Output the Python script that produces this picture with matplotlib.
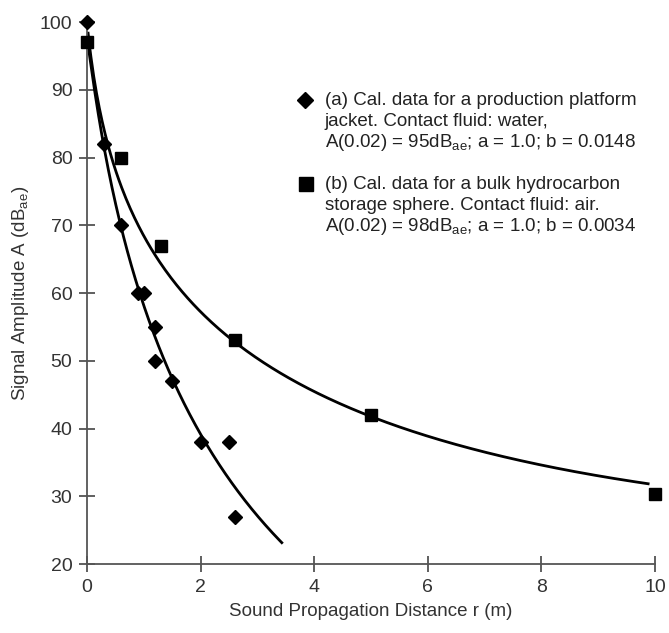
import numpy as np
import matplotlib.pyplot as plt

plt.rcParams['font.family'] = ['Liberation Sans', 'DejaVu Sans']
plt.rcParams['mathtext.fontset'] = 'custom'
plt.rcParams['mathtext.rm'] = 'Liberation Sans'
plt.rcParams['mathtext.it'] = 'Liberation Sans'

# Datos (a): plataforma de producción, agua
r_a = [0.0, 0.3, 0.6, 0.9, 1.0, 1.2, 1.2, 1.5, 2.0, 2.5, 2.6]
A_a = [100, 82, 70, 60, 60, 55, 50, 47, 38, 38, 27]
# curva ajustada (a)
r_fit_a = [0.02, 0.09, 0.29, 0.34, 0.60, 0.79, 0.96, 1.11, 1.49, 1.99, 2.58, 3.43]
A_fit_a = [98.0, 90.0, 82.4, 80.0, 70.3, 63.4, 60.0, 56.0, 47.2, 38.8, 30.9, 23.8]

# Datos (b): esfera de almacenamiento, aire
r_b = [0.0, 0.6, 1.3, 2.6, 5.0, 10.0]
A_b = [97, 80, 67, 53, 42, 30.3]
# curva ajustada (b)
r_fit_b = [0.02, 0.14, 0.48, 0.92, 1.08, 1.34, 1.70, 2.58, 3.57, 3.98, 4.92, 5.98, 7.98, 9.88]
A_fit_b = [98.6, 90.0, 80.0, 70.0, 67.0, 63.4, 59.8, 52.6, 47.2, 45.2, 42.5, 39.5, 34.9, 31.4]

# curva suavizada por mínimos cuadrados: u = ln(r + 0.15); A = c0 + c1*u + c2*u^2 + c3*r
def curva(r_pts, A_pts):
    r_pts = np.asarray(r_pts)
    u = np.log(r_pts + 0.15)
    M = np.column_stack([np.ones_like(u), u, u**2, r_pts])
    c = np.linalg.lstsq(M, np.asarray(A_pts), rcond=None)[0]
    rr = np.linspace(r_pts.min(), r_pts.max(), 400)
    uu = np.log(rr + 0.15)
    return rr, c[0] + c[1] * uu + c[2] * uu**2 + c[3] * rr

ra, Aa = curva(r_fit_a, A_fit_a)
rb, Ab = curva(r_fit_b, A_fit_b)

fig = plt.figure(figsize=(6.69, 6.33), dpi=100)
ax = fig.add_axes([0.130, 0.109, 0.849, 0.856])

ax.plot(ra, Aa, '-', color='black', lw=2)
ax.plot(rb, Ab, '-', color='black', lw=2)
ax.plot(r_a, A_a, 'D', color='black', ms=7, clip_on=False, zorder=3)
ax.plot(r_b, A_b, 's', color='black', ms=8, clip_on=False, zorder=3)

ax.set_xlim(0, 10)
ax.set_ylim(20, 100)
ax.set_xticks(np.arange(0, 11, 2))
ax.set_yticks(np.arange(20, 101, 10))
for s in ['top', 'right']:
    ax.spines[s].set_visible(False)
for s in ['left', 'bottom']:
    ax.spines[s].set_color('#555555')
    ax.spines[s].set_linewidth(1.3)
ax.tick_params(direction='inout', length=11, width=1.2, color='#444444',
               labelsize=14, labelcolor='#333333', pad=5)
ax.set_xlabel('Sound Propagation Distance r (m)', fontsize=13.5, color='#333333', labelpad=5)
ax.set_ylabel('Signal Amplitude A (dB$_{ae}$)', fontsize=13.5, color='#333333', labelpad=6)

# Leyenda
lg_a = ['(a) Cal. data for a production platform',
        'jacket. Contact fluid: water,',
        'A(0.02) = 95dB$_{ae}$; a = 1.0; b = 0.0148']
lg_b = ['(b) Cal. data for a bulk hydrocarbon',
        'storage sphere. Contact fluid: air.',
        'A(0.02) = 98dB$_{ae}$; a = 1.0; b = 0.0034']
ax.plot([0.384], [0.856], 'D', color='black', ms=8.5, transform=ax.transAxes, clip_on=False)
ax.plot([0.386], [0.701], 's', color='black', ms=10.5, transform=ax.transAxes, clip_on=False)
for i, t in enumerate(lg_a):
    ax.text(0.419, 0.856 - i * 0.039, t, transform=ax.transAxes, fontsize=13.5,
            color='#222222', va='center')
for i, t in enumerate(lg_b):
    ax.text(0.419, 0.701 - i * 0.039, t, transform=ax.transAxes, fontsize=13.5,
            color='#222222', va='center')

plt.savefig('out.png', dpi=100)
